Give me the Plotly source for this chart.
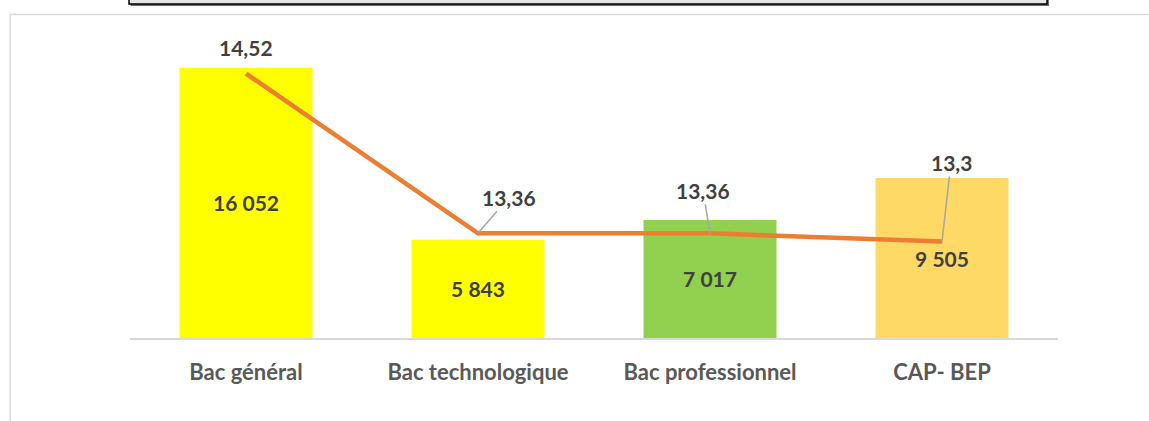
import plotly.graph_objects as go

categories = ["Bac général", "Bac technologique", "Bac professionnel", "CAP- BEP"]
effectifs = [16052, 5843, 7017, 9505]
effectif_labels = ["16 052", "5 843", "7 017", "9 505"]
moyennes = [14.52, 13.36, 13.36, 13.3]
moyenne_labels = ["14,52", "13,36", "13,36", "13,3"]
bar_colors = ["#FFFF00", "#FFFF00", "#92D050", "#FFD966"]

W, H = 1149, 421
L, R, T, B = 129.5, 90.5, 35, 83
pw, ph = W - L - R, H - T - B

def px_x(x):
    return (x - L) / pw

def px_y(y):
    return (H - B - y) / ph

FONT = "Lato, 'Open Sans', sans-serif"
LABEL_FONT = dict(family=FONT, size=21, color="#404040", weight="bold")

fig = go.Figure()
fig.add_trace(go.Bar(
    x=categories, y=effectifs, marker=dict(color=bar_colors, line=dict(width=0)),
    text=effectif_labels, textposition="inside", insidetextanchor="middle",
    textangle=0, textfont=LABEL_FONT,
    showlegend=False, hoverinfo="skip",
))
fig.add_trace(go.Scatter(
    x=categories, y=moyennes, yaxis="y2", mode="lines",
    line=dict(color="#ED7D31", width=4.5), showlegend=False, hoverinfo="skip",
))

# line data labels with leader lines
offsets = [(0, -26, False), (31, -36, True), (-7, -43, True), (9, -79, True)]
for cat, val, lab, (ax, ay, arrow) in zip(categories, moyennes, moyenne_labels, offsets):
    if arrow:
        fig.add_annotation(x=cat, y=val, xref="x", yref="y2", text=lab,
                           showarrow=True, arrowhead=0, arrowwidth=1.5,
                           arrowcolor="#A6A6A6", ax=ax, ay=ay, font=LABEL_FONT)
    else:
        fig.add_annotation(x=cat, y=val, xref="x", yref="y2", text=lab,
                           showarrow=False, yshift=-ay, font=LABEL_FONT)

shapes = [
    # chart frame (left and top borders)
    dict(type="line", xref="paper", yref="paper", x0=px_x(9.5), x1=px_x(9.5),
         y0=px_y(14.5), y1=px_y(425), line=dict(color="#D9D9D9", width=1.5)),
    dict(type="line", xref="paper", yref="paper", x0=px_x(9.5), x1=px_x(1155),
         y0=px_y(14.5), y1=px_y(14.5), line=dict(color="#D9D9D9", width=1.5)),
    # title box cut at the top
    dict(type="rect", xref="paper", yref="paper", x0=px_x(130), x1=px_x(1049.5),
         y0=px_y(6), y1=px_y(-10), fillcolor="#6E6E6E", line=dict(width=0)),
    dict(type="rect", xref="paper", yref="paper", x0=px_x(128.5), x1=px_x(1047.5),
         y0=px_y(4), y1=px_y(-10), fillcolor="#E6E6E6",
         line=dict(color="#000000", width=1.5)),
]

fig.update_layout(
    width=W, height=H,
    margin=dict(l=L, r=R, t=T, b=B, autoexpand=False),
    paper_bgcolor="white", plot_bgcolor="white",
    bargap=0.427,
    shapes=shapes,
    xaxis=dict(showline=True, linecolor="#D9D9D9", linewidth=1.5, showgrid=False,
               zeroline=False, ticks="", ticklabelstandoff=14,
               tickfont=dict(family=FONT, size=22, color="#595959", weight="bold")),
    yaxis=dict(range=[0, 18000], visible=False, showgrid=False, zeroline=False),
    yaxis2=dict(range=[12.6, 14.8], overlaying="y", side="right", visible=False,
                showgrid=False, zeroline=False),
)

fig.write_html("out.html", config={"displayModeBar": False},
               post_script="document.body.style.margin='0';")
